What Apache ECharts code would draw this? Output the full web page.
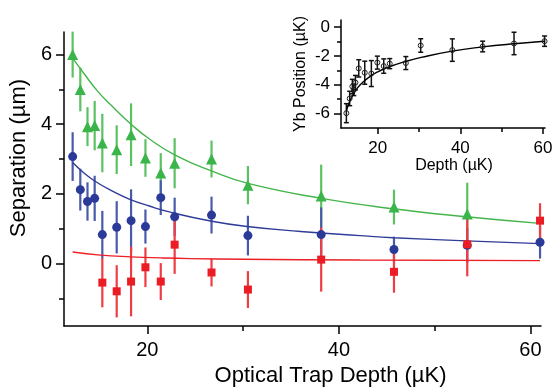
<!DOCTYPE html>
<html>
<head>
<meta charset="utf-8">
<script src="https://cdn.jsdelivr.net/npm/echarts@6/dist/echarts.min.js"></script>
<style>
  html, body { margin: 0; padding: 0; background: #fff; }
  #main { width: 560px; height: 392px; }
</style>
</head>
<body>
<div id="main"></div>
<script>
// trap depths (µK) shared by the three main series
const depth = [12.2, 13.0, 13.75, 14.5, 15.3, 16.8, 18.3, 19.8, 21.4, 22.85, 26.7, 30.5, 38.15, 45.75, 53.4, 61.0];

const greenY   = [6.0, 5.0, 3.93, 3.96, 3.46, 3.27, 3.7, 3.03, 2.6, 2.88, 3.0, 2.25, 1.94, 1.62, 1.42, null];
const greenErr = [0.66, 0.63, 0.56, 0.71, 0.84, 0.7, 0.9, 0.54, 0.57, 0.72, 0.53, 0.55, 0.9, 0.5, 0.9, null];
const blueY    = [3.07, 2.12, 1.78, 1.87, 0.83, 1.04, 1.23, 1.06, 1.89, 1.34, 1.39, 0.8, 0.83, 0.4, 0.52, 0.61];
const blueErr  = [0.7, 0.6, 0.55, 0.65, 0.68, 0.75, 0.9, 0.49, 0.5, 0.55, 0.53, 0.57, 0.78, 0.37, 0.5, 0.47];
const redY     = [null, null, null, null, -0.55, -0.8, -0.52, -0.11, -0.52, 0.54, -0.26, -0.75, 0.11, -0.24, 0.55, 1.23];
const redErr   = [null, null, null, null, 0.71, 0.75, 1.0, 0.57, 0.53, 0.84, 0.4, 0.53, 0.92, 0.6, 0.92, 0.5];

// fit curves
const greenFit = [[12.2, 5.9], [13.4, 5.45], [14.8, 4.95], [16.2, 4.55], [18.3, 4.0], [20.3, 3.56], [23.0, 3.1], [26.7, 2.66], [30.5, 2.3], [38.2, 1.87], [45.7, 1.57], [53.3, 1.34], [61.0, 1.15]];
const blueFit  = [[12.2, 2.9], [13.3, 2.62], [14.5, 2.37], [16.4, 2.07], [18.1, 1.85], [20.2, 1.65], [22.3, 1.48], [26.6, 1.22], [30.4, 1.06], [36.0, 0.92], [42.2, 0.8], [45.7, 0.74], [53.3, 0.65], [61.0, 0.57]];
const redFit   = [[12.2, 0.33], [15.1, 0.24], [18.3, 0.19], [21.4, 0.16], [24.5, 0.14], [30.0, 0.12], [42.2, 0.1], [61.0, 0.08]];

// inset: Yb position
const insetDepth = [12.4, 13.2, 13.85, 14.2, 14.6, 15.4, 16.85, 18.45, 19.9, 21.45, 22.9, 26.8, 30.4, 38.06, 45.4, 53.0, 60.4];
const insetY     = [-5.97, -4.95, -4.12, -4.35, -3.85, -2.86, -3.16, -3.22, -2.46, -2.7, -2.53, -2.49, -1.27, -1.59, -1.34, -1.13, -0.97];
const insetErr   = [0.66, 0.5, 0.5, 0.4, 0.5, 0.6, 0.8, 0.9, 0.45, 0.5, 0.35, 0.45, 0.47, 0.78, 0.37, 0.78, 0.36];
const insetFit   = [[12.4, -5.85], [13.0, -5.3], [14.0, -4.7], [15.0, -4.25], [16.0, -3.92], [18.0, -3.45], [20.0, -3.1], [22.5, -2.78], [26.5, -2.4], [30.5, -2.1], [38.0, -1.66], [45.4, -1.37], [53.0, -1.15], [60.4, -0.98]];

// ticks
const mainXTicks = [20, 40, 60];
const mainXMinor = [30, 50];
const mainYTicks = [0, 2, 4, 6];
const mainYMinor = [-1, 1, 3, 5];
const insetXTicks = [20, 40, 60];
const insetXMinor = [30, 50];
const insetYTicks = [-6, -4, -2, 0];
const insetYMinor = [-5, -3, -1];

const FONT = 'Liberation Sans, Arial, Helvetica, sans-serif';

function points(xs, ys) {
  const out = [];
  xs.forEach((x, i) => { if (ys[i] != null) out.push([x, ys[i]]); });
  return out;
}
function bars(xs, ys, es) {
  const out = [];
  xs.forEach((x, i) => { if (ys[i] != null) out.push([x, ys[i] - es[i], ys[i] + es[i]]); });
  return out;
}
function errRender(color, width, cap) {
  return function (params, api) {
    const x = api.value(0);
    const a = api.coord([x, api.value(1)]);
    const b = api.coord([x, api.value(2)]);
    const kids = [{type: 'line', shape: {x1: a[0], y1: a[1], x2: b[0], y2: b[1]}, style: {stroke: color, lineWidth: width}}];
    if (cap) {
      kids.push({type: 'line', shape: {x1: a[0] - cap, y1: a[1], x2: a[0] + cap, y2: a[1]}, style: {stroke: color, lineWidth: width}});
      kids.push({type: 'line', shape: {x1: b[0] - cap, y1: b[1], x2: b[0] + cap, y2: b[1]}, style: {stroke: color, lineWidth: width}});
    }
    return {type: 'group', children: kids};
  };
}

function axis(grid, pos, min, max, ticks, opts) {
  return Object.assign({
    type: 'value', gridIndex: grid, position: pos, min: min, max: max,
    axisLine: {show: true, onZero: false, lineStyle: {color: '#000', width: 1.5}},
    axisTick: {show: true, customValues: ticks, length: 8, lineStyle: {color: '#000', width: 1.5}},
    axisLabel: {customValues: ticks, color: '#000', fontFamily: FONT},
    splitLine: {show: false}
  }, opts);
}
function minorAxis(grid, pos, min, max, ticks, len) {
  return {
    type: 'value', gridIndex: grid, position: pos, min: min, max: max,
    axisLine: {show: false, onZero: false},
    axisTick: {show: true, customValues: ticks, length: len, lineStyle: {color: '#000', width: 1.5}},
    axisLabel: {show: false},
    splitLine: {show: false}
  };
}

const chart = echarts.init(document.getElementById('main'));
chart.setOption({
  animation: false,
  grid: [
    {left: 63, top: 32, width: 478, height: 298},
    {left: 341, top: 20, width: 204, height: 108}
  ],
  xAxis: [
    axis(0, 'bottom', 11.3, 61.1, mainXTicks, {
      axisLabel: {customValues: mainXTicks, color: '#000', fontFamily: FONT, fontSize: 20, margin: 14},
      name: 'Optical Trap Depth (µK)', nameLocation: 'middle', nameGap: 30,
      nameTextStyle: {color: '#000', fontFamily: FONT, fontSize: 22, padding: [0, 0, 0, 56]}
    }),
    minorAxis(0, 'bottom', 11.3, 61.1, mainXMinor, 5),
    axis(1, 'bottom', 11.1, 60.5, insetXTicks, {
      axisTick: {show: true, customValues: insetXTicks, length: 6, lineStyle: {color: '#000', width: 1.5}},
      axisLabel: {customValues: insetXTicks, color: '#000', fontFamily: FONT, fontSize: 17, margin: 12},
      name: 'Depth (µK)', nameLocation: 'middle', nameGap: 30,
      nameTextStyle: {color: '#000', fontFamily: FONT, fontSize: 16, padding: [0, 0, 0, 22]}
    }),
    minorAxis(1, 'bottom', 11.1, 60.5, insetXMinor, 4)
  ],
  yAxis: [
    axis(0, 'left', -1.8, 6.65, mainYTicks, {
      axisLabel: {customValues: mainYTicks, color: '#000', fontFamily: FONT, fontSize: 20, margin: 12},
      name: 'Separation (µm)', nameLocation: 'middle', nameGap: 30,
      nameTextStyle: {color: '#000', fontFamily: FONT, fontSize: 22, padding: [0, 0, 0, 42]}
    }),
    minorAxis(0, 'left', -1.8, 6.65, mainYMinor, 5),
    axis(1, 'left', -7, 0.5, insetYTicks, {
      axisTick: {show: true, customValues: insetYTicks, length: 7, lineStyle: {color: '#000', width: 1.5}},
      axisLabel: {customValues: insetYTicks, color: '#000', fontFamily: FONT, fontSize: 17, margin: 11},
      name: 'Yb Position (µK)', nameLocation: 'middle', nameGap: 32,
      nameTextStyle: {color: '#000', fontFamily: FONT, fontSize: 16}
    }),
    minorAxis(1, 'left', -7, 0.5, insetYMinor, 4)
  ],
  series: [
    {type: 'custom', xAxisIndex: 0, yAxisIndex: 0, z: 1, renderItem: errRender('#5cc163', 2.2), data: bars(depth, greenY, greenErr), encode: {x: 0, y: [1, 2]}},
    {type: 'custom', xAxisIndex: 0, yAxisIndex: 0, z: 1, renderItem: errRender('#4a5aab', 2.2), data: bars(depth, blueY, blueErr), encode: {x: 0, y: [1, 2]}},
    {type: 'custom', xAxisIndex: 0, yAxisIndex: 0, z: 1, renderItem: errRender('#ee3d43', 2.2), data: bars(depth, redY, redErr), encode: {x: 0, y: [1, 2]}},
    {type: 'line', xAxisIndex: 0, yAxisIndex: 0, z: 2, smooth: 0.5, showSymbol: false, data: greenFit, lineStyle: {color: '#45b54b', width: 1.4}},
    {type: 'line', xAxisIndex: 0, yAxisIndex: 0, z: 2, smooth: 0.5, showSymbol: false, data: blueFit, lineStyle: {color: '#2f3d98', width: 1.4}},
    {type: 'line', xAxisIndex: 0, yAxisIndex: 0, z: 2, smooth: 0.5, showSymbol: false, data: redFit, lineStyle: {color: '#ec2027', width: 1.4}},
    {type: 'scatter', xAxisIndex: 0, yAxisIndex: 0, z: 3, symbol: 'triangle', symbolSize: 11, data: points(depth, greenY), itemStyle: {color: '#3bb54a', opacity: 1}},
    {type: 'scatter', xAxisIndex: 0, yAxisIndex: 0, z: 3, symbol: 'circle', symbolSize: 9, data: points(depth, blueY), itemStyle: {color: '#2b3a98', opacity: 1}},
    {type: 'scatter', xAxisIndex: 0, yAxisIndex: 0, z: 3, symbol: 'rect', symbolSize: 8, data: points(depth, redY), itemStyle: {color: '#ec1c24', opacity: 1}},

    {type: 'custom', xAxisIndex: 2, yAxisIndex: 2, z: 1, renderItem: errRender('#111', 1.5, 2.5), data: bars(insetDepth, insetY, insetErr), encode: {x: 0, y: [1, 2]}},
    {type: 'line', xAxisIndex: 2, yAxisIndex: 2, z: 2, smooth: 0.5, showSymbol: false, data: insetFit, lineStyle: {color: '#000', width: 1.4}},
    {type: 'scatter', xAxisIndex: 2, yAxisIndex: 2, z: 3, symbol: 'circle', symbolSize: 5, data: points(insetDepth, insetY), itemStyle: {color: 'rgba(255,255,255,0)', borderColor: '#222', borderWidth: 1, opacity: 1}}
  ]
});
</script>
</body>
</html>
